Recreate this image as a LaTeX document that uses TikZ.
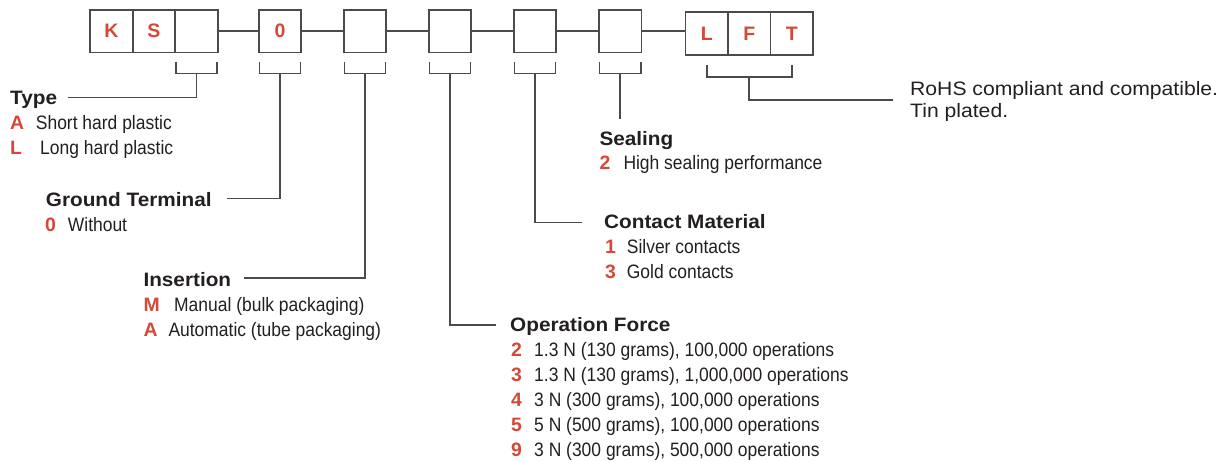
\documentclass[tikz,border=0pt]{standalone}
\usepackage{fontspec}
\setmainfont{Liberation Sans}
\newfontfamily\hfont[FakeStretch=1.07]{Liberation Sans}
\newfontfamily\ifont[FakeStretch=0.9]{Liberation Sans}
\newfontfamily\rfont[FakeStretch=1.09]{Liberation Sans}
\usetikzlibrary{calc}
\definecolor{codered}{RGB}{212,72,56}
\definecolor{txt}{RGB}{35,31,32}
\definecolor{ln}{RGB}{75,75,75}
\tikzset{
  cell/.style={draw=ln, line width=1.8pt, minimum width=42.5pt, minimum height=42.5pt, inner sep=0pt,
    font=\bfseries\fontsize{19.5}{22}\selectfont, text=codered},
  heading/.style={anchor=base west, inner sep=0pt, text=txt, font=\hfont\bfseries\fontsize{19.4}{22}\selectfont},
  code/.style={anchor=base west, inner sep=0pt, text=codered, font=\bfseries\fontsize{19.4}{22}\selectfont},
  desc/.style={anchor=base west, inner sep=0pt, text=txt, font=\ifont\fontsize{19.4}{22}\selectfont},
  note/.style={anchor=base west, inner sep=0pt, text=txt, font=\rfont\fontsize{19.4}{22}\selectfont},
  wire/.style={draw=ln, line width=1.6pt},
}
\begin{document}
\begin{tikzpicture}[x=1pt, y=-1pt]
\useasboundingbox (0,0) rectangle (1231,461);
% code boxes
\node[cell] (K) at (111.5,31.2) {K};
\node[cell] (S) at (154,31.2) {S};
\node[cell] (B3) at (196.5,31.2) {};
\node[cell] (B0) at (280,31.2) {0};
\node[cell] (B4) at (365,31.2) {};
\node[cell] (B5) at (450,31.2) {};
\node[cell] (B6) at (535,31.2) {};
\node[cell] (B7) at (620.2,31.2) {};
\node[cell] (L) at (706.7,33.5) {L};
\node[cell] (F) at (749.2,33.5) {F};
\node[cell] (T) at (791.7,33.5) {T};
% links between boxes
\draw[wire] (B3.east) -- (B0.west);
\draw[wire] (B0.east) -- (B4.west);
\draw[wire] (B4.east) -- (B5.west);
\draw[wire] (B5.east) -- (B6.west);
\draw[wire] (B6.east) -- (B7.west);
\draw[wire] (B7.east) -- (B7.east -| L.west);
% brackets
\foreach \b in {B3,B0,B4,B5,B6,B7}{
  \draw[wire] ($(\b.south west)+(1.5,8.5)$) -- ++(0,11.6) -| ($(\b.south east)+(-1.5,8.5)$);
  \coordinate (\b s) at ($(\b.south)+(0,20.1)$);
}
\draw[wire] ($(L.south)+(0,9.3)$) -- ++(0,12) -| ($(T.south)+(0,9.3)$);
\coordinate (LFTs) at ($(F.south)+(0,21.3)$);

% Type
\node[heading] (type) at (10,104) {Type};
\coordinate (typeE) at (68,97.5);
\draw[wire] (B3s) |- (typeE);
\node[code] (typeA) at (10,129.5) {A};
\node[desc] (typeAd) at (35.7,129.5) {Short hard plastic};
\node[code] (typeL) at (10,154.5) {L};
\node[desc] (typeLd) at (40,154.5) {Long hard plastic};

% Ground terminal
\node[heading] (gnd) at (45.7,206.5) {Ground Terminal};
\coordinate (gndE) at (226.7,198.5);
\draw[wire] (B0s) |- (gndE);
\node[code] (gnd0) at (45,231.5) {0};
\node[desc] (gnd0d) at (67.7,231.5) {Without};

% Insertion
\node[heading] (ins) at (143.3,286.5) {Insertion};
\coordinate (insE) at (244.3,277.7);
\draw[wire] (B4s) |- (insE);
\node[code] (insM) at (143.3,311.5) {M};
\node[desc] (insMd) at (174,311.5) {Manual (bulk packaging)};
\node[code] (insA) at (143.3,336.5) {A};
\node[desc] (insAd) at (168.3,336.5) {Automatic (tube packaging)};

% Operation force
\node[heading] (op) at (510,331.7) {Operation Force};
\coordinate (opE) at (495.7,325.2);
\draw[wire] (B5s) |- (opE);
\node[code] (op2) at (511,356.5) {2};
\node[desc] (op2d) at (534,356.5) {1.3 N (130 grams), 100,000 operations};
\node[code] (op3) at (511,381.5) {3};
\node[desc] (op3d) at (534,381.5) {1.3 N (130 grams), 1,000,000 operations};
\node[code] (op4) at (511,406.5) {4};
\node[desc] (op4d) at (534,406.5) {3 N (300 grams), 100,000 operations};
\node[code] (op5) at (511,431.5) {5};
\node[desc] (op5d) at (534,431.5) {5 N (500 grams), 100,000 operations};
\node[code] (op9) at (511,456.5) {9};
\node[desc] (op9d) at (534,456.5) {3 N (300 grams), 500,000 operations};

% Contact material
\node[heading] (cm) at (604,228.3) {Contact Material};
\coordinate (cmE) at (582.3,222.6);
\draw[wire] (B6s) |- (cmE);
\node[code] (cm1) at (605,253.3) {1};
\node[desc] (cm1d) at (626.7,253.3) {Silver contacts};
\node[code] (cm3) at (605,278.3) {3};
\node[desc] (cm3d) at (626.7,278.3) {Gold contacts};

% Sealing
\node[heading] (seal) at (599.3,145) {Sealing};
\coordinate (sealE) at (620.2,119.3);
\draw[wire] (B7s) -- (sealE);
\node[code] (seal2) at (599.3,169.3) {2};
\node[desc] (seal2d) at (623.3,169.3) {High sealing performance};

% RoHS
\node[note] (rohs1) at (910,95.7) {RoHS compliant and compatible.};
\node[note] (rohs2) at (910,117.7) {Tin plated.};
\coordinate (rohsE) at (893,100);
\draw[wire] (LFTs) |- (rohsE);
\end{tikzpicture}
\end{document}
